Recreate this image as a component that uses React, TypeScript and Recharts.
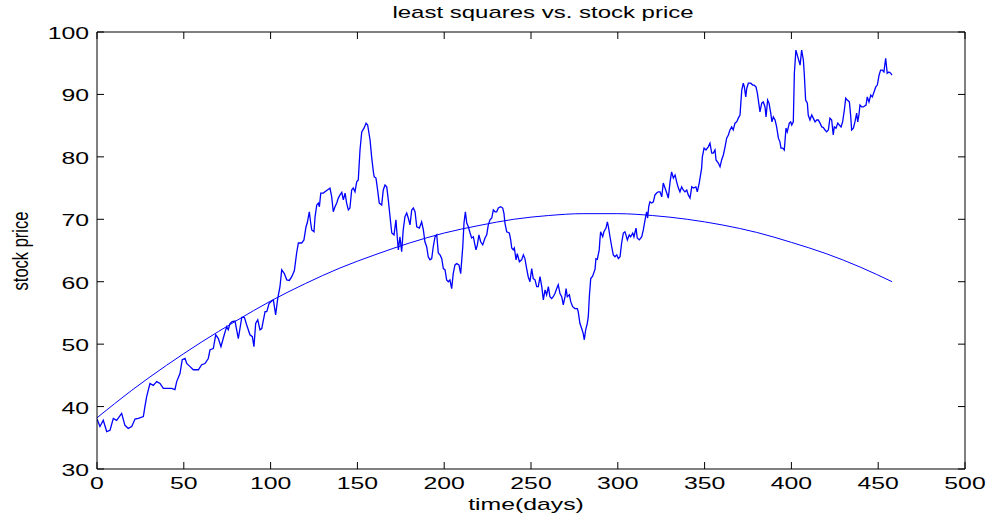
import { LineChart, Line, XAxis, YAxis } from 'recharts';

// stock price (day, price)
const stockDays = [
  0, 1.7, 3.6, 5.6, 7.5, 9.4, 11.3, 14.2, 16.1, 18, 20, 21.9, 23.8, 26.7, 27.6, 28.6, 30.5, 32.4, 34.4, 36.3,
  38.2, 40.1, 43, 44.9, 45.9, 47.8, 49.1, 50.7, 51.7, 53.6, 55.5, 58.4, 60.3, 62.2, 64.1, 65.1, 67, 68.4, 69.9, 71.4,
  73.3, 74.7, 75.6, 76.6, 77.9, 79.5, 81.4, 83.4, 84.9, 86.2, 88.1, 89.5, 90.4, 91.4, 92.6, 93.9, 94.9, 96.8, 97.8, 99.1,
  100.2, 101.6, 102.9, 104.1, 105.4, 106.4, 107.9, 109.3, 110.8, 112.2, 113.7, 115, 116, 117.9, 119.2, 120.4, 121.1, 122.3, 123.1, 123.7,
  125, 125.6, 126.6, 127.5, 128.1, 128.9, 130.4, 131.3, 132.7, 134.2, 135.2, 136.1, 137.1, 138.1, 139, 140, 141, 141.9, 142.9, 143.8,
  144.8, 145.7, 146.7, 147.6, 148.6, 149.6, 150.5, 151.5, 152.5, 153.8, 155, 155.9, 157.3, 158.2, 159.2, 159.7, 160.7, 161.5, 162.6, 164,
  164.9, 165.9, 166.9, 167.8, 168.8, 169.8, 171.1, 172.2, 173, 173.6, 174.5, 175.5, 176.4, 177.4, 178.4, 179.3, 180.3, 181.3, 182.2, 183.2,
  184.2, 185.7, 187, 188, 188.9, 189.9, 190.8, 191.8, 192.8, 193.7, 194.7, 195.7, 196.6, 197.6, 198.6, 199.5, 200.5, 201.4, 202.4, 203.3,
  204.3, 205.2, 206.2, 207.2, 208.5, 209.5, 210.7, 211.4, 212.2, 213, 213.9, 214.9, 215.8, 216.8, 217.7, 218.3, 219.1, 220, 221, 222.2,
  223.5, 224.5, 225.4, 226.4, 227.4, 228.3, 229.3, 230.2, 231.2, 232.5, 233.7, 234.4, 235, 236, 237.5, 238.3, 238.9, 239.8, 240.4, 241.4,
  242.1, 243.3, 244.6, 245.6, 246.5, 247.5, 248.4, 249.4, 250.4, 251.3, 252.3, 253.3, 254.2, 255.2, 256.2, 257.1, 258.1, 259, 260, 260.9,
  261.9, 262.8, 263.8, 264.8, 265.7, 266.7, 267.7, 268.6, 269.6, 270.2, 270.9, 272.1, 272.9, 274, 275.3, 276.7, 277.2, 278.2, 279.2, 280.1,
  280.7, 281.5, 282.4, 283, 283.6, 284.4, 285.5, 286.9, 287.4, 288.2, 289.3, 289.7, 290.1, 291.3, 292, 293.2, 294, 294.6, 295.5, 296.5,
  297.4, 298.4, 299.4, 300.3, 301.3, 302.2, 303.2, 304.1, 304.7, 305.5, 306.6, 307.4, 308.6, 309.3, 310.5, 311.2, 312.4, 313.8, 314.7, 315.7,
  316.6, 317.2, 317.8, 318.5, 319.5, 320.5, 321.4, 322.4, 323.3, 324.3, 325.3, 326.2, 327.2, 328.2, 329.1, 330.1, 331, 332, 333, 333.9,
  334.9, 335.8, 336.8, 337.7, 338.7, 339.7, 340.6, 341.6, 342.6, 343.5, 345, 345.8, 346.9, 348.3, 348.7, 349.7, 350.8, 352.1, 353.1, 354.1,
  355, 356, 356.6, 357.9, 358.9, 359.8, 360.8, 361.8, 362.7, 363.7, 364.6, 365.6, 366.5, 367.5, 368.5, 369.4, 370.4, 371.4, 372.3, 372.9,
  373.7, 374.3, 375.2, 376.6, 377.7, 378.5, 379.6, 380.4, 381.2, 381.9, 382.9, 383.8, 384.8, 385.4, 386.3, 387.1, 388.1, 388.8, 389.6, 390.6,
  391.5, 392.5, 393.4, 394, 395, 395.9, 396.9, 397.6, 398.8, 399.6, 400.2, 401.1, 401.7, 402.6, 403.4, 404.2, 405, 405.9, 406.9, 407.4,
  408.2, 409.2, 409.7, 410.7, 411.7, 412.6, 413.6, 414.6, 415.5, 416.5, 417.5, 418.4, 419.4, 420.3, 421.3, 422.2, 423.2, 424.1, 424.7, 425.7,
  426.7, 427.6, 428.6, 429.5, 430.5, 431.3, 432.2, 433.4, 434.2, 434.7, 435.7, 436.6, 437.6, 438.2, 438.9, 439.5, 440.5, 441.4, 443, 443.7,
  444.7, 445.7, 446.6, 447.6, 448.6, 449.5, 450.5, 451.4, 452.4, 453.3, 454.3, 455.2, 456.2, 457.2, 457.9,
];
const stockPrices = [
  38.0, 36.8, 37.8, 36.0, 36.2, 38.1, 37.8, 38.9, 37.0, 36.5, 36.8, 38.0, 38.1, 38.4, 40.0, 41.6, 43.7, 43.4, 44.0, 43.7,
  42.9, 42.9, 42.9, 42.7, 44.0, 45.3, 47.5, 47.7, 46.9, 46.4, 45.9, 45.9, 46.7, 46.9, 47.7, 49.1, 49.3, 51.5, 50.9, 49.6,
  51.5, 52.8, 52.3, 53.3, 53.6, 53.7, 50.9, 54.3, 54.3, 53.1, 51.5, 51.2, 49.6, 53.3, 53.9, 52.3, 52.5, 55.2, 55.2, 56.5,
  56.8, 57.1, 54.7, 57.3, 59.2, 61.9, 61.3, 60.3, 60.2, 60.8, 61.8, 64.6, 66.2, 66.2, 66.7, 68.8, 69.4, 71.2, 69.4, 68.3,
  68.0, 70.4, 72.3, 72.6, 72.0, 74.2, 74.2, 74.4, 74.7, 75.0, 73.6, 71.2, 72.0, 72.6, 73.4, 73.9, 74.3, 73.1, 74.2, 72.6,
  71.5, 71.8, 74.7, 75.0, 74.4, 76.0, 76.3, 81.1, 84.0, 84.6, 85.4, 85.1, 82.7, 80.0, 77.6, 76.8, 76.6, 75.0, 72.6, 72.3,
  74.7, 75.5, 75.2, 73.1, 70.4, 67.8, 67.5, 69.9, 67.0, 65.1, 67.2, 64.8, 68.3, 70.4, 71.0, 70.2, 69.1, 71.5, 71.8, 71.2,
  68.8, 68.6, 69.6, 68.3, 66.4, 65.6, 64.0, 63.5, 63.7, 65.6, 67.2, 67.5, 64.6, 64.3, 63.7, 62.1, 61.9, 60.3, 60.0, 60.3,
  58.9, 61.3, 62.7, 62.9, 62.7, 61.3, 65.6, 69.4, 71.2, 69.4, 68.8, 67.8, 67.0, 67.2, 65.9, 65.1, 65.9, 67.5, 66.4, 65.9,
  67.0, 67.5, 69.1, 69.9, 70.2, 71.5, 71.2, 71.2, 71.8, 72.0, 71.8, 71.0, 69.4, 68.0, 67.8, 66.7, 65.4, 65.1, 65.4, 63.5,
  64.5, 63.2, 63.5, 64.3, 63.7, 62.1, 60.8, 60.0, 62.1, 60.5, 60.3, 59.2, 59.2, 60.8, 59.2, 57.1, 58.7, 57.9, 59.2, 57.6,
  57.3, 57.6, 58.1, 58.9, 59.5, 58.1, 57.6, 56.3, 57.6, 58.9, 57.6, 57.9, 56.8, 56.0, 55.7, 55.7, 55.2, 53.3, 52.5, 51.7,
  50.7, 52.3, 53.3, 54.4, 57.6, 60.5, 60.9, 62.0, 63.7, 63.6, 65.1, 66.7, 68.0, 67.2, 68.0, 68.6, 69.6, 68.8, 67.2, 65.6,
  64.3, 64.0, 64.3, 63.7, 64.0, 66.2, 67.8, 68.0, 67.5, 66.7, 67.5, 67.2, 67.8, 67.2, 68.6, 67.0, 66.7, 67.2, 68.3, 69.9,
  71.2, 70.2, 72.0, 72.8, 72.6, 72.8, 73.9, 74.2, 74.4, 74.4, 73.6, 75.8, 75.0, 74.2, 73.4, 76.0, 77.6, 76.6, 77.1, 76.0,
  75.0, 74.4, 75.2, 74.7, 74.4, 74.7, 73.9, 73.4, 75.2, 75.0, 75.2, 74.4, 75.8, 78.2, 80.0, 81.4, 81.1, 81.6, 82.2, 80.6,
  80.6, 81.1, 79.5, 79.0, 78.4, 79.5, 80.3, 81.6, 83.0, 83.5, 84.3, 84.8, 84.3, 85.4, 85.6, 86.2, 86.7, 90.7, 91.8, 91.2,
  89.6, 91.0, 91.8, 91.8, 91.5, 91.5, 91.2, 90.2, 88.6, 87.2, 88.6, 88.8, 88.0, 86.4, 89.1, 88.6, 87.0, 85.6, 86.4, 85.9,
  84.8, 83.0, 82.4, 81.4, 81.4, 81.1, 84.6, 84.0, 85.4, 85.6, 85.1, 85.6, 93.4, 97.1, 96.3, 95.5, 94.7, 97.1, 95.5, 93.4,
  89.1, 88.6, 86.7, 85.9, 86.7, 86.2, 85.6, 85.9, 85.9, 85.4, 84.8, 84.7, 84.3, 84.0, 84.3, 86.2, 85.9, 83.5, 84.8, 84.6,
  85.4, 85.1, 84.8, 85.6, 87.5, 89.4, 89.1, 88.8, 86.4, 84.3, 84.6, 85.6, 87.0, 85.6, 86.7, 88.3, 88.0, 88.0, 88.3, 89.6,
  88.8, 89.9, 89.6, 90.4, 91.2, 91.5, 93.1, 93.9, 93.9, 93.6, 95.8, 93.4, 93.6, 93.4, 93.1,
];

// least squares curve
const fitDays = [0, 20, 40, 60, 80, 100, 120, 140, 160, 180, 200, 220, 240, 260, 280, 300, 320, 340, 360, 380, 400, 420, 440, 458];
const fitPrices = [38.2, 42.6, 46.6, 50.3, 53.7, 56.9, 59.7, 62.2, 64.3, 66.2, 67.8, 69.0, 70.0, 70.6, 70.9, 70.9, 70.6, 70.0, 69.1, 67.9, 66.3, 64.5, 62.3, 60.0];

const xTicks = [0, 50, 100, 150, 200, 250, 300, 350, 400, 450, 500];
const yTicks = [30, 40, 50, 60, 70, 80, 90, 100];

const stockData = stockDays.map((d, i) => ({ day: d, price: stockPrices[i] }));
const fitData = fitDays.map((d, i) => ({ day: d, price: fitPrices[i] }));

const FONT = '"Liberation Sans", Arial, sans-serif';
const TICK = 7;
const SX = 1.55;

function BottomTick(props: any) {
  const { x, y, payload } = props;
  return (
    <g>
      <line x1={x} y1={y} x2={x} y2={y - TICK} stroke="#000" />
      <text transform={`translate(${x},${y + 20}) scale(${SX},1)`} textAnchor="middle" fontSize={16} fontFamily={FONT} fill="#000">
        {payload.value}
      </text>
    </g>
  );
}

function LeftTick(props: any) {
  const { x, y, payload } = props;
  return (
    <g>
      <line x1={x} y1={y} x2={x + TICK} y2={y} stroke="#000" />
      <text transform={`translate(${x - 8},${y + 7}) scale(${SX},1)`} textAnchor="end" fontSize={16} fontFamily={FONT} fill="#000">
        {payload.value}
      </text>
    </g>
  );
}

function TopTick(props: any) {
  const { x, y } = props;
  return <line x1={x} y1={y} x2={x} y2={y + TICK} stroke="#000" />;
}

function RightTick(props: any) {
  const { x, y } = props;
  return <line x1={x} y1={y} x2={x - TICK} y2={y} stroke="#000" />;
}

export default function App() {
  return (
    <div style={{ position: 'absolute', left: 0, top: 0, width: 990, height: 519, background: '#fff' }}>
      <LineChart width={990} height={519} margin={{ top: 31, right: 24, bottom: 0, left: 0 }}>
        <XAxis
          dataKey="day"
          type="number"
          domain={[0, 500]}
          ticks={xTicks}
          allowDataOverflow
          height={50}
          tickSize={0}
          tickMargin={0}
          tickLine={false}
          tick={<BottomTick />}
          axisLine={{ stroke: '#000' }}
        />
        <XAxis
          xAxisId="top"
          orientation="top"
          dataKey="day"
          type="number"
          domain={[0, 500]}
          ticks={xTicks}
          allowDataOverflow
          height={1}
          tickSize={0}
          tickMargin={0}
          tickLine={false}
          tick={<TopTick />}
          axisLine={{ stroke: '#000' }}
        />
        <YAxis
          type="number"
          domain={[30, 100]}
          ticks={yTicks}
          allowDataOverflow
          width={97}
          tickSize={0}
          tickMargin={0}
          tickLine={false}
          tick={<LeftTick />}
          axisLine={{ stroke: '#000' }}
        />
        <YAxis
          yAxisId="right"
          orientation="right"
          type="number"
          domain={[30, 100]}
          ticks={yTicks}
          allowDataOverflow
          width={1}
          tickSize={0}
          tickMargin={0}
          tickLine={false}
          tick={<RightTick />}
          axisLine={{ stroke: '#000' }}
        />
        <Line data={fitData} dataKey="price" type="monotone" stroke="#0000ff" strokeWidth={1} dot={false} isAnimationActive={false} />
        <Line data={stockData} dataKey="price" type="linear" stroke="#0000ff" strokeWidth={1.3} dot={false} isAnimationActive={false} />
      </LineChart>
      <svg width={990} height={519} style={{ position: 'absolute', left: 0, top: 0, pointerEvents: 'none' }}>
        <text transform={`translate(543,18) scale(1.5,1)`} textAnchor="middle" fontSize={16} fontFamily={FONT} fill="#000">
          least squares vs. stock price
        </text>
        <text transform={`translate(526,510) scale(${SX},1)`} textAnchor="middle" fontSize={16} fontFamily={FONT} fill="#000">
          time(days)
        </text>
        <text transform="translate(28,251) rotate(-90) scale(1,1.35)" textAnchor="middle" fontSize={16.5} fontFamily={FONT} fill="#000">
          stock price
        </text>
      </svg>
    </div>
  );
}
